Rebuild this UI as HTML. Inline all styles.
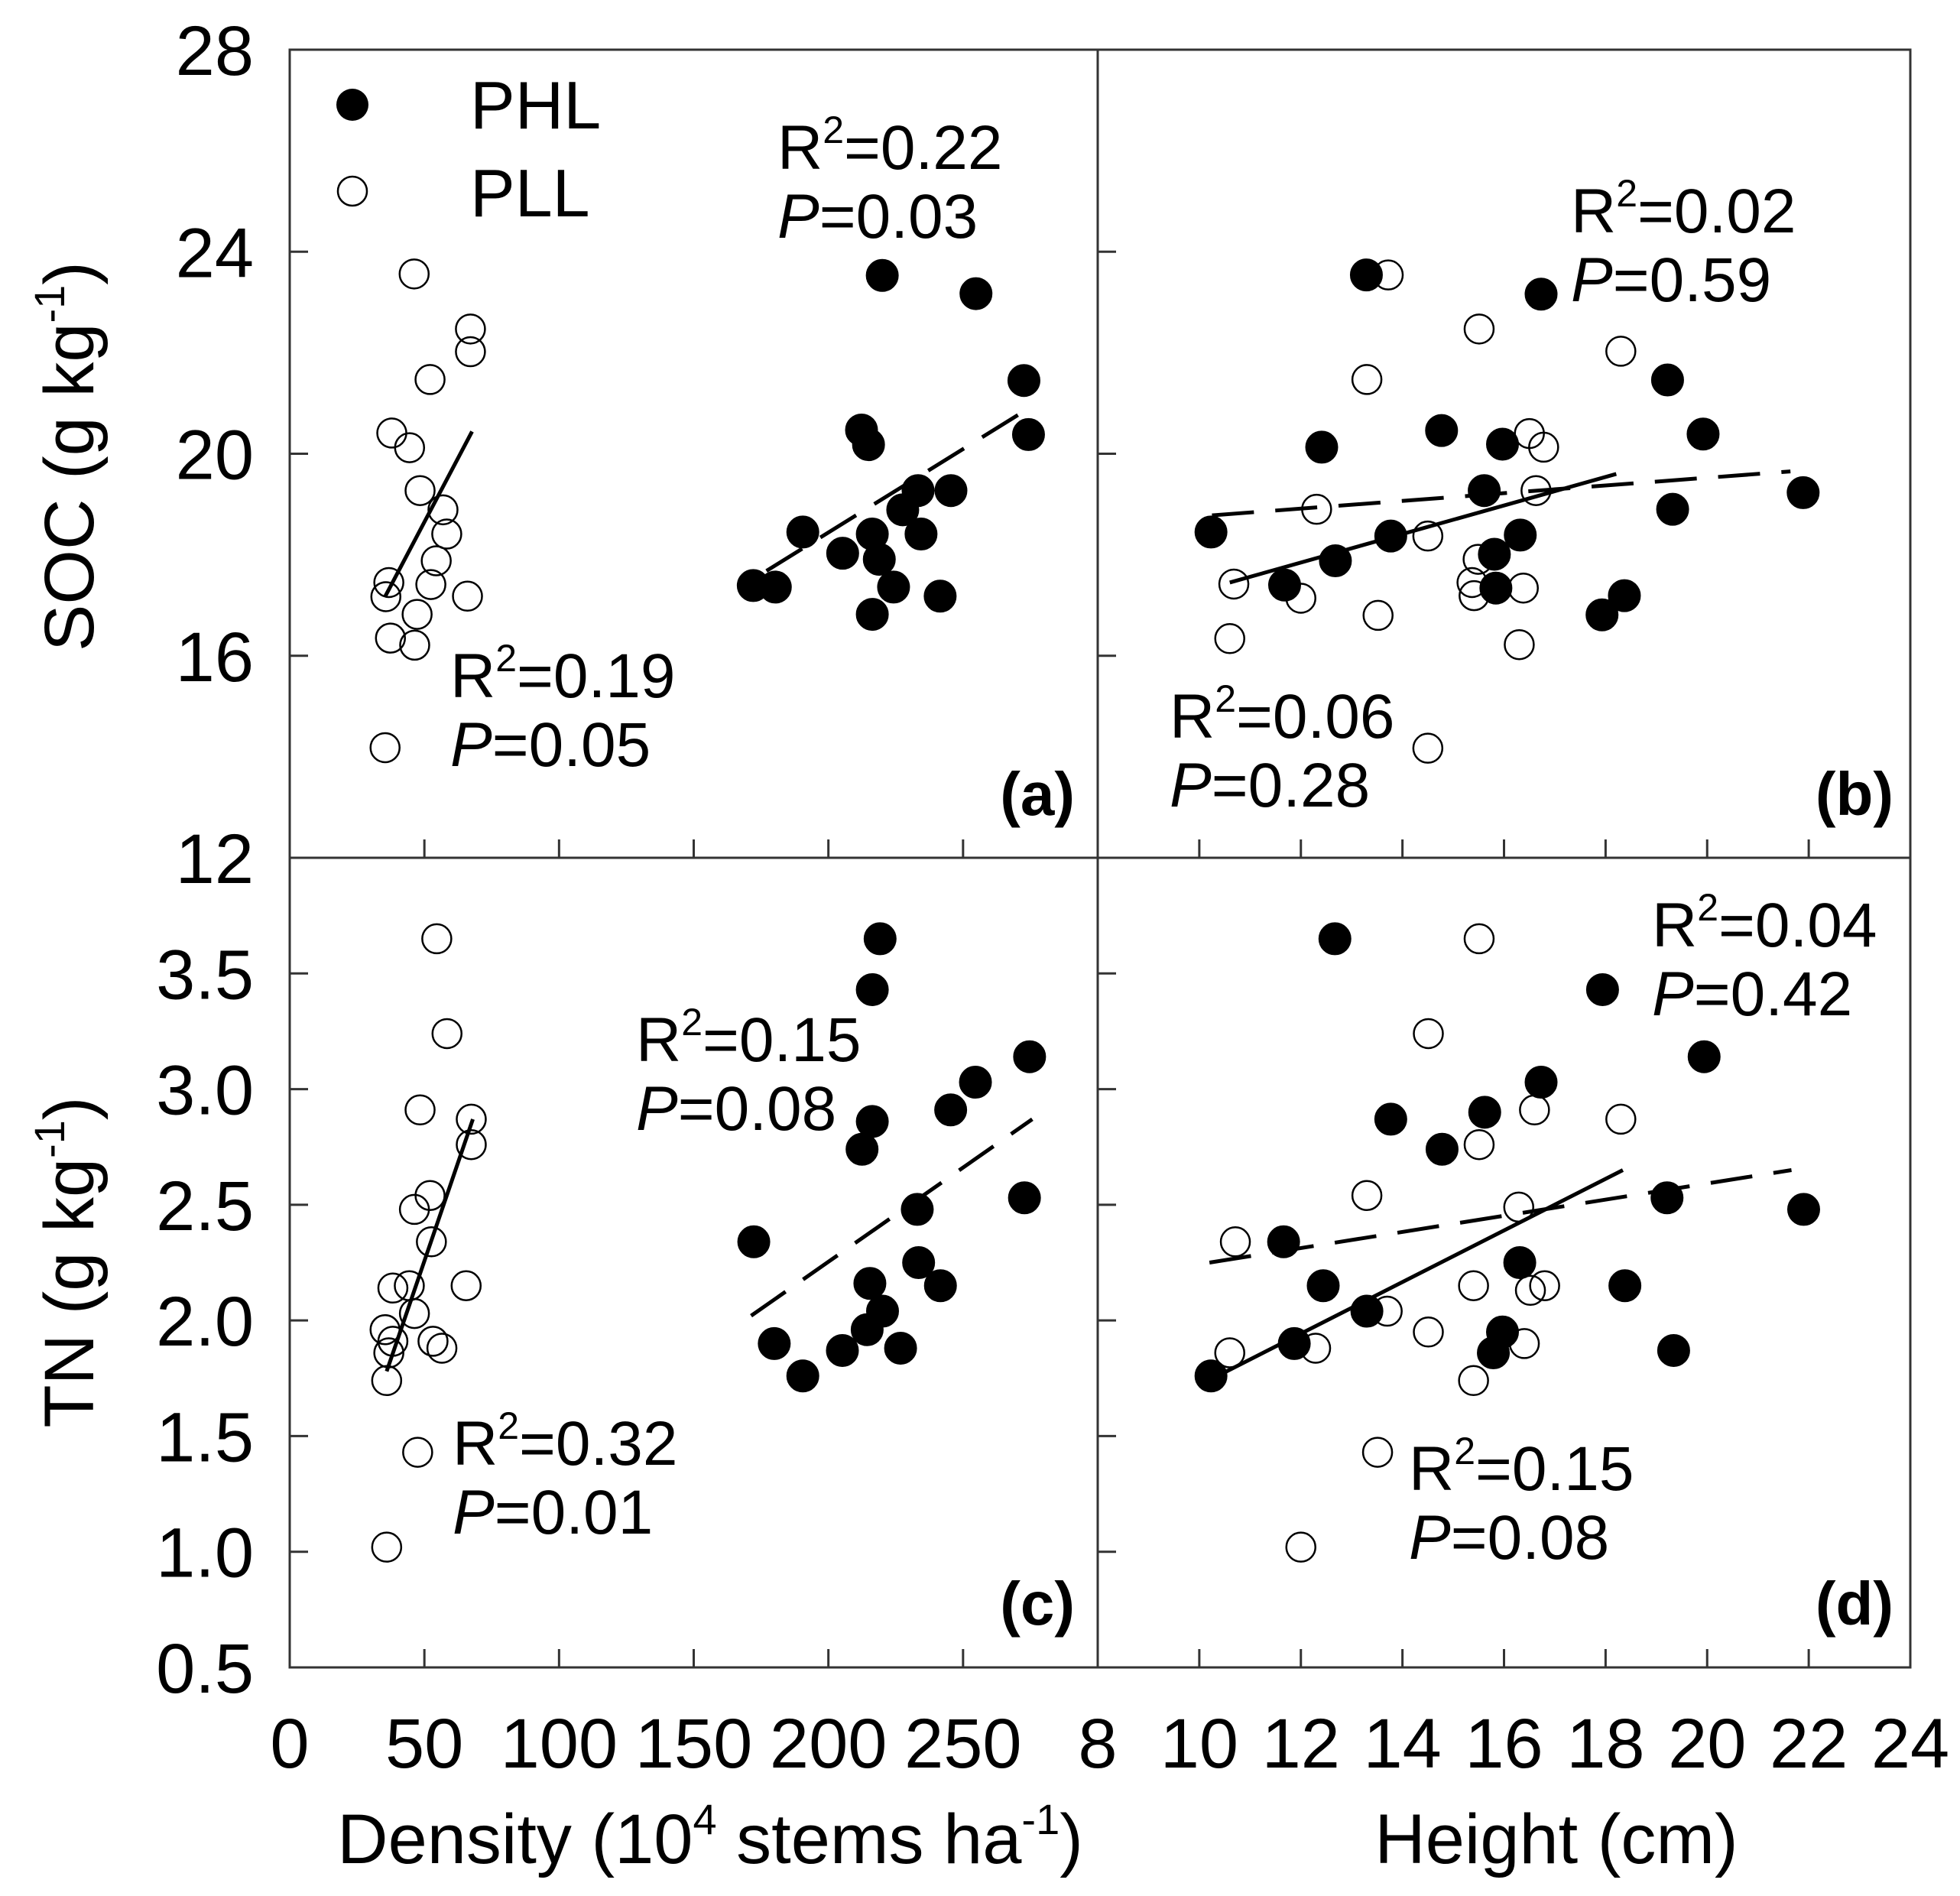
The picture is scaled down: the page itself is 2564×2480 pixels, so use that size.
<!DOCTYPE html>
<html><head><meta charset="utf-8"><style>
html,body{margin:0;padding:0;background:#fff;}
svg{display:block;font-family:"Liberation Sans",Arial,sans-serif;}
</style></head><body>
<svg id="fig" width="2564" height="2480" viewBox="0 0 2564 2480" xmlns="http://www.w3.org/2000/svg">
<rect width="2564" height="2480" fill="#fff"/>
<g id="layer"></g>
</svg>
<script>
// ---- data ----
const aPLLx=[46.2,67.1,67.1,52.1,37.9,44.5,48.4,56.9,58.3,54.4,52.4,36.8,35.7,66.0,47.3,37.4,46.4,35.4];
const aPLLy=[23.56,22.47,22.02,21.47,20.41,20.12,19.27,18.89,18.41,17.88,17.41,17.45,17.17,17.18,16.82,16.35,16.21,14.18];
const aPHLx=[220.0,254.8,272.6,212.3,214.9,274.3,233.3,245.5,190.5,227.6,216.3,234.4,205.3,218.9,172.1,180.3,224.2,241.5,216.3];
const aPHLy=[23.53,23.17,21.45,20.47,20.18,20.38,19.27,19.27,18.45,18.89,18.41,18.41,18.03,17.91,17.39,17.36,17.36,17.18,16.82];
const bPHLx=[13.29,16.73,19.22,14.77,12.41,15.97,19.92,15.61,21.89,19.32,10.23,13.77,16.32,15.81,12.68,11.68,15.84,18.37,17.93];
const bPHLy=[23.54,23.16,21.46,20.46,20.13,20.19,20.39,19.27,19.23,18.90,18.45,18.37,18.39,18.01,17.88,17.40,17.34,17.19,16.81];
const bPLLx=[13.72,15.51,18.30,13.30,16.50,16.78,16.63,12.31,14.50,15.49,10.68,12.00,15.37,15.41,16.38,13.52,10.60,16.30,14.50];
const bPLLy=[23.54,22.47,22.03,21.47,20.40,20.13,19.27,18.90,18.37,17.91,17.42,17.14,17.45,17.19,17.34,16.80,16.34,16.22,14.17];
const cPLLx=[54.6,58.4,48.4,67.4,67.4,52.1,46.3,52.6,38.3,44.4,65.5,46.3,35.4,38.3,53.2,56.5,36.8,36.0,47.5,36.0];
const cPLLy=[3.65,3.24,2.91,2.87,2.76,2.54,2.48,2.34,2.14,2.15,2.15,2.03,1.96,1.91,1.91,1.88,1.86,1.74,1.43,1.02];
const cPHLx=[219.2,216.3,274.7,254.6,245.4,216.3,212.5,233.0,272.8,172.3,233.5,241.6,215.4,220.1,214.4,179.9,205.2,226.8,190.5];
const cPHLy=[3.65,3.43,3.14,3.03,2.91,2.86,2.74,2.48,2.53,2.34,2.25,2.15,2.16,2.04,1.96,1.90,1.87,1.88,1.76];
const dPHLx=[12.67,17.94,19.94,16.73,15.62,13.77,14.78,19.21,21.90,11.66,16.31,12.44,18.38,13.30,11.87,15.97,15.79,10.23,19.34];
const dPHLy=[3.65,3.43,3.14,3.03,2.90,2.87,2.74,2.53,2.48,2.34,2.25,2.15,2.15,2.04,1.90,1.95,1.86,1.76,1.87];
const dPLLx=[15.51,14.51,16.60,18.30,15.51,13.30,16.29,10.71,15.40,16.52,16.80,13.70,14.51,12.29,10.60,16.40,15.40,13.51,12.00];
const dPLLy=[3.65,3.24,2.91,2.87,2.76,2.54,2.49,2.34,2.15,2.13,2.15,2.04,1.95,1.88,1.86,1.90,1.74,1.43,1.02];
// fit lines [x0,y0,x1,y1]
const aPLLfit=[35.4,17.17,67.7,20.44];
const aPHLfit=[177,17.68,275,20.92];
const bPLLfit=[10.60,17.45,18.21,19.60];
const bPHLfit=[10.25,18.78,21.64,19.65];
const cPLLfit=[36.0,1.78,68.0,2.87];
const cPHLfit=[171.3,2.02,275.7,2.87];
const dPLLfit=[10.45,1.77,18.34,2.65];
const dPHLfit=[10.20,2.25,21.66,2.65];
const densTicks=[0,50,100,150,200,250];
const heightTicks=[8,10,12,14,16,18,20,22,24];
const socTicks=[12,16,20,24,28];
const tnTicks=[0.5,1.0,1.5,2.0,2.5,3.0,3.5];

// ---- geometry ----
const L=379,M=1436,R=2499,T=65,MY=1122,B=2181;
const NS="http://www.w3.org/2000/svg";
const g=document.getElementById('layer');
function mk(tag,attrs,parent){const e=document.createElementNS(NS,tag);for(const k in attrs)e.setAttribute(k,attrs[k]);(parent||g).appendChild(e);return e;}
const xDens=v=>L+(v/300)*(M-L);
const xHt=v=>M+((v-8)/16)*(R-M);
const ySoc=v=>T+((28-v)/16)*(MY-T);
const yTn=v=>MY+((4-v)/3.5)*(B-MY);

// frame
const fr=mk('g',{});


mk('rect',{x:L,y:T,width:R-L,height:B-T,fill:'none',stroke:'#333',"stroke-width":3},fr);
mk('line',{x1:M,y1:T,x2:M,y2:B,stroke:'#333',"stroke-width":3},fr);
mk('line',{x1:L,y1:MY,x2:R,y2:MY,stroke:'#333',"stroke-width":3},fr);

// ticks
const tk=mk('g',{stroke:'#333',"stroke-width":3});


const TL=24;
densTicks.forEach(v=>{if(v===0)return;const x=xDens(v);
  mk('line',{x1:x,y1:B,x2:x,y2:B-TL},tk);mk('line',{x1:x,y1:MY,x2:x,y2:MY-TL},tk);});
heightTicks.forEach(v=>{if(v===8||v===24)return;const x=xHt(v);
  mk('line',{x1:x,y1:B,x2:x,y2:B-TL},tk);mk('line',{x1:x,y1:MY,x2:x,y2:MY-TL},tk);});
socTicks.forEach(v=>{if(v===12||v===28)return;const y=ySoc(v);
  mk('line',{x1:L,y1:y,x2:L+TL,y2:y},tk);mk('line',{x1:M,y1:y,x2:M+TL,y2:y},tk);});
tnTicks.forEach(v=>{if(v===0.5)return;const y=yTn(v);
  mk('line',{x1:L,y1:y,x2:L+TL,y2:y},tk);mk('line',{x1:M,y1:y,x2:M+TL,y2:y},tk);});

// tick labels
function txt(s,x,y,attrs,name){const t=mk('text',Object.assign({x:x,y:y,fill:'#000'},attrs||{}));t.textContent=s;
  return t;}
const FS=92;
densTicks.forEach(v=>{txt(String(v),xDens(v),2312,{"font-size":FS,"text-anchor":"middle"},'x-tick-label-density');});
heightTicks.forEach(v=>{txt(String(v),xHt(v),2312,{"font-size":FS,"text-anchor":"middle"},'x-tick-label-height');});
socTicks.forEach(v=>{txt(String(v),332,ySoc(v)+33,{"font-size":FS,"text-anchor":"end"},'y-tick-label-soc');});
tnTicks.forEach(v=>{txt(v.toFixed(1),332,yTn(v)+33,{"font-size":FS,"text-anchor":"end"},'y-tick-label-tn');});

// axis titles
const xt1=txt('',929,2437,{"font-size":92,"text-anchor":"middle"},'x-axis-title-density');
xt1.innerHTML='Density (10<tspan dy="-38" font-size="56">4</tspan><tspan dy="38"> stems ha</tspan><tspan dy="-38" font-size="56">-1</tspan><tspan dy="38">)</tspan>';
txt('Height (cm)',2036,2437,{"font-size":92,"text-anchor":"middle"},'x-axis-title-height');
const yt1=txt('',0,0,{"font-size":92,"text-anchor":"middle",transform:"translate(122,597) rotate(-90)"},'y-axis-title-soc');
yt1.innerHTML='SOC (g kg<tspan dy="-38" font-size="56">-1</tspan><tspan dy="38">)</tspan>';
const yt2=txt('',0,0,{"font-size":92,"text-anchor":"middle",transform:"translate(122,1651) rotate(-90)"},'y-axis-title-tn');
yt2.innerHTML='TN (g kg<tspan dy="-38" font-size="56">-1</tspan><tspan dy="38">)</tspan>';

// series
function pts(xs,ys,fx,fy,filled,name){
  const grp=mk('g',{});
  
  
  xs.forEach((v,i)=>{const c=mk('circle',{cx:fx(v),cy:fy(ys[i]),r:filled?21:19,fill:filled?'#000':'none',stroke:'#000',"stroke-width":filled?1:2.5},grp);
    
    });
}
function fit(f,fx,fy,dashed,name){
  const l=mk('line',{x1:fx(f[0]),y1:fy(f[1]),x2:fx(f[2]),y2:fy(f[3]),stroke:'#000',"stroke-width":5});
  if(dashed)l.setAttribute('stroke-dasharray','55 28');
  
  
}
pts(aPLLx,aPLLy,xDens,ySoc,false,'panel-a-pll');
pts(aPHLx,aPHLy,xDens,ySoc,true,'panel-a-phl');
fit(aPLLfit,xDens,ySoc,false,'panel-a-pll-fit');
fit(aPHLfit,xDens,ySoc,true,'panel-a-phl-fit');
pts(bPLLx,bPLLy,xHt,ySoc,false,'panel-b-pll');
pts(bPHLx,bPHLy,xHt,ySoc,true,'panel-b-phl');
fit(bPLLfit,xHt,ySoc,false,'panel-b-pll-fit');
fit(bPHLfit,xHt,ySoc,true,'panel-b-phl-fit');
pts(cPLLx,cPLLy,xDens,yTn,false,'panel-c-pll');
pts(cPHLx,cPHLy,xDens,yTn,true,'panel-c-phl');
fit(cPLLfit,xDens,yTn,false,'panel-c-pll-fit');
fit(cPHLfit,xDens,yTn,true,'panel-c-phl-fit');
pts(dPLLx,dPLLy,xHt,yTn,false,'panel-d-pll');
pts(dPHLx,dPHLy,xHt,yTn,true,'panel-d-phl');
fit(dPLLfit,xHt,yTn,false,'panel-d-pll-fit');
fit(dPHLfit,xHt,yTn,true,'panel-d-phl-fit');

// legend
const lg=mk('g',{});


const l1=mk('circle',{cx:461,cy:137,r:21,fill:'#000'},lg);


const l2=mk('circle',{cx:461,cy:250,r:19,fill:'none',stroke:'#000',"stroke-width":2.5},lg);


txt('PHL',615,168,{"font-size":88},'legend-phl-label');
txt('PLL',615,283,{"font-size":88},'legend-pll-label');

// annotations
function stat(r2,p,x,y,name){
  const a=txt('',x,y,{"font-size":82},name+'-r2');
  a.innerHTML='R<tspan dy="-34" font-size="50">2</tspan><tspan dy="34">='+r2+'</tspan>';
  const b=txt('',x,y+90,{"font-size":82},name+'-p');
  b.innerHTML='<tspan font-style="italic">P</tspan>='+p;
}
stat('0.22','0.03',1017,221,'panel-a-phl-stat');
stat('0.19','0.05',589,912,'panel-a-pll-stat');
stat('0.02','0.59',2055,304,'panel-b-phl-stat');
stat('0.06','0.28',1530,965,'panel-b-pll-stat');
stat('0.15','0.08',832,1388,'panel-c-phl-stat');
stat('0.32','0.01',592,1916,'panel-c-pll-stat');
stat('0.04','0.42',2161,1238,'panel-d-phl-stat');
stat('0.15','0.08',1843,1949,'panel-d-pll-stat');
txt('(a)',1406,1066,{"font-size":80,"font-weight":"bold","text-anchor":"end"},'panel-label-a');
txt('(b)',2477,1066,{"font-size":80,"font-weight":"bold","text-anchor":"end"},'panel-label-b');
txt('(c)',1406,2125,{"font-size":80,"font-weight":"bold","text-anchor":"end"},'panel-label-c');
txt('(d)',2477,2125,{"font-size":80,"font-weight":"bold","text-anchor":"end"},'panel-label-d');
</script>
</body></html>
